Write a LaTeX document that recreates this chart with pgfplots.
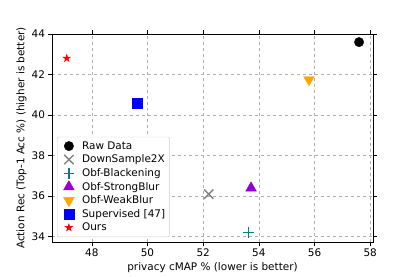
\documentclass[border=0pt]{standalone}
\usepackage{pgfplots}
\pgfplotsset{compat=1.18}
\usepackage{fontspec}
\setmainfont{DejaVu Sans}
\definecolor{mpurple}{HTML}{9400D3}
\definecolor{morange}{HTML}{FFA500}
\definecolor{mteal}{HTML}{008080}
\definecolor{mgray}{HTML}{808080}
\definecolor{mgrid}{HTML}{B0B0B0}
\pgfdeclareplotmark{fstar}{%
  \pgfpathmoveto{\pgfpointpolar{90}{\pgfplotmarksize}}%
  \pgfpathlineto{\pgfpointpolar{126}{0.382\pgfplotmarksize}}%
  \pgfpathlineto{\pgfpointpolar{162}{\pgfplotmarksize}}%
  \pgfpathlineto{\pgfpointpolar{198}{0.382\pgfplotmarksize}}%
  \pgfpathlineto{\pgfpointpolar{234}{\pgfplotmarksize}}%
  \pgfpathlineto{\pgfpointpolar{270}{0.382\pgfplotmarksize}}%
  \pgfpathlineto{\pgfpointpolar{306}{\pgfplotmarksize}}%
  \pgfpathlineto{\pgfpointpolar{342}{0.382\pgfplotmarksize}}%
  \pgfpathlineto{\pgfpointpolar{18}{\pgfplotmarksize}}%
  \pgfpathlineto{\pgfpointpolar{54}{0.382\pgfplotmarksize}}%
  \pgfpathclose\pgfusepathqfill}
\begin{document}
\begin{tikzpicture}[x=1bp,y=1bp]
\path[use as bounding box] (0,0) rectangle (415,277);
\begin{axis}[
  at={(52bp,35bp)}, anchor=south west,
  scale only axis, width=321bp, height=208bp,
  xmin=46.57, xmax=58.1, ymin=33.74, ymax=44,
  xtick={48,50,...,58}, ytick={34,36,...,44},
  /pgf/number format/assume math mode=true,
  ticklabel style={font=\fontsize{10.5}{12}\selectfont},
  label style={font=\fontsize{10.5}{12}\selectfont},
  xlabel={privacy cMAP \% (lower is better)},
  ylabel={Action Rec (Top-1 Acc \%) (higher is better)},
  xlabel style={at={(0.5,0)}, anchor=north, yshift=-17bp},
  ylabel style={at={(0,0.5)}, anchor=south, yshift=22bp},
  tick align=outside, tick style={black, line width=0.6pt}, major tick length=3.5bp,
  grid=major, grid style={dashed, mgrid, line width=0.5pt},
  axis line style={line width=0.8pt},
  legend style={at={(0.0156,0.024)}, anchor=south west, draw=black!20, rounded corners=2pt,
    font=\fontsize{10.5}{12}\selectfont, row sep=0.2bp, inner sep=2.5bp, cells={anchor=west},
    nodes={inner sep=2bp}},
  legend image code/.code={\path (0bp,0bp) (20bp,0bp);\draw[mark repeat=2,mark phase=2] plot coordinates {(0bp,0bp) (9bp,0bp) (18bp,0bp)};},
  legend cell align=left,
]
\addplot[only marks, mark=*, mark size=4.7bp, black, mark options={fill=black}] coordinates {(57.6,43.6)};
\addlegendentry{Raw Data}
\addplot[only marks, mark=x, mark size=6.6bp, mgray, mark options={line width=1.3pt}] coordinates {(52.2,36.1)};
\addlegendentry{DownSample2X}
\addplot[only marks, mark=+, mark size=5.4bp, mteal, mark options={line width=1.3pt}] coordinates {(53.62,34.2)};
\addlegendentry{Obf-Blackening}
\addplot[only marks, mark=triangle*, mark size=6.2bp, mpurple, mark options={fill=mpurple}] coordinates {(53.72,36.4)};
\addlegendentry{Obf-StrongBlur}
\addplot[only marks, mark=triangle*, mark size=6.2bp, morange, mark options={fill=morange, rotate=180}] coordinates {(55.8,41.75)};
\addlegendentry{Obf-WeakBlur}
\addplot[only marks, mark=square*, mark size=5.2bp, blue, mark options={fill=blue}] coordinates {(49.62,40.6)};
\addlegendentry{Supervised [47]}
\addplot[only marks, mark=fstar, mark size=4.7bp, red, mark options={fill=red}] coordinates {(47.1,42.8)};
\addlegendentry{Ours}
\end{axis}
\end{tikzpicture}
\end{document}
